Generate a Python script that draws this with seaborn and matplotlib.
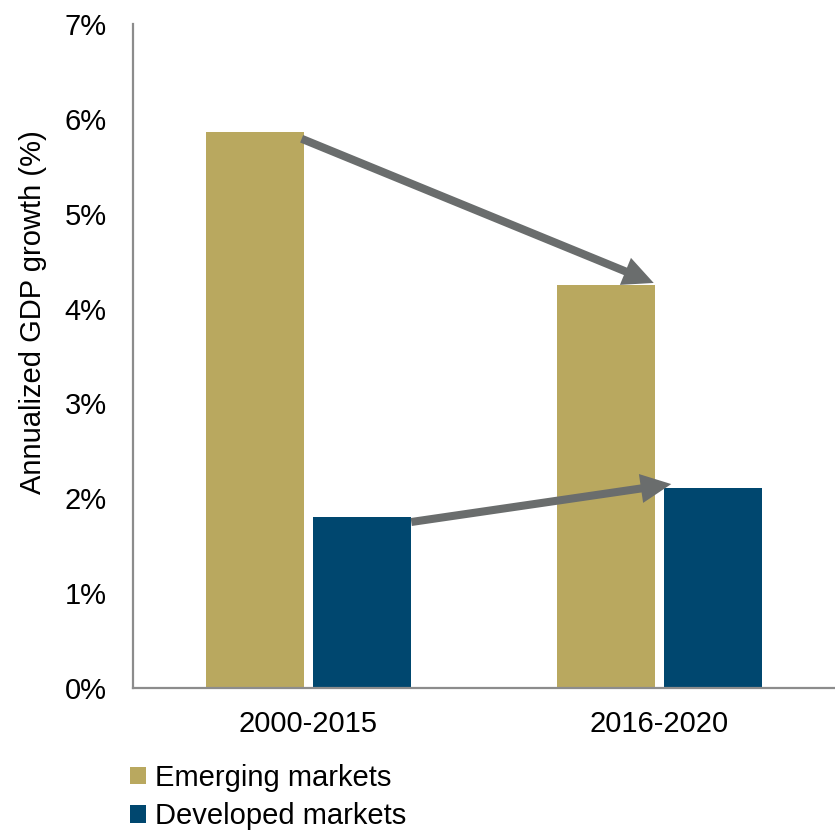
import matplotlib
matplotlib.use("Agg")
import matplotlib.pyplot as plt
import seaborn as sns
import pandas as pd
from matplotlib.patches import Patch
from matplotlib.ticker import FuncFormatter

# Annualized GDP growth by period
periods = ["2000-2015", "2016-2020"]
emerging = [5.86, 4.25]
developed = [1.80, 2.11]
series = ["Emerging markets", "Developed markets"]
colors = ["#B9A85F", "#00476F"]
arrow_color = "#6A6D6D"

df = pd.DataFrame({
    "period": periods * 2,
    "growth": emerging + developed,
    "market": [series[0]] * 2 + [series[1]] * 2,
})

sns.set_theme(style="white")
plt.rcParams["font.family"] = ["Liberation Sans", "DejaVu Sans"]

fig = plt.figure(figsize=(8.35, 8.32), dpi=100)
ax = fig.add_axes([133 / 835, 1 - 688 / 832, 1 - 133 / 835, (688 - 24) / 832])

sns.barplot(data=df, x="period", y="growth", hue="market", order=periods,
            hue_order=series, palette=colors, width=0.6125, gap=0.088,
            saturation=1, ax=ax, legend=False, linewidth=0)

ax.set_xlim(-0.5, 1.5)
ax.set_ylim(0, 7)
ax.set_yticks(range(0, 8))
ax.yaxis.set_major_formatter(FuncFormatter(lambda v, _: f"{v:.0f}%"))
ax.tick_params(axis="both", length=0, labelsize=21, colors="black")
ax.tick_params(axis="y", pad=19)
ax.tick_params(axis="x", pad=16)
ax.set_xlabel("")
ax.set_ylabel("Annualized GDP growth (%)", fontsize=21, color="black")
ax.yaxis.set_label_coords(-0.1225, 0.566)

for side in ["top", "right"]:
    ax.spines[side].set_visible(False)
for side in ["left", "bottom"]:
    ax.spines[side].set_color("#8C8C8C")
    ax.spines[side].set_linewidth(1.6)

# Bars in drawing order: emerging (both periods), then developed
bars = ax.patches
e1, e2, d1, d2 = bars[0], bars[1], bars[2], bars[3]

def right_top(b, dy=0.0, dx=0.0):
    return (b.get_x() + b.get_width() + dx, b.get_height() + dy)

def left_top(b, dy=0.0, dx=0.0):
    return (b.get_x() + dx, b.get_height() + dy)

arrow_kw = dict(arrowstyle="simple,head_length=1.1,head_width=1.05,tail_width=0.29",
                mutation_scale=20, fc=arrow_color, ec="none", lw=0,
                shrinkA=0, shrinkB=0)
ax.annotate("", xy=right_top(e2, dy=0.02, dx=-0.003), xytext=right_top(e1, dy=-0.07, dx=-0.006),
            arrowprops=arrow_kw, annotation_clip=False)
ax.annotate("", xy=left_top(d2, dy=0.04, dx=0.02), xytext=right_top(d1, dy=-0.05),
            arrowprops=arrow_kw, annotation_clip=False)

handles = [Patch(facecolor=c, edgecolor="none", label=s) for c, s in zip(colors, series)]
fig.legend(handles=handles, loc="upper left", bbox_to_anchor=(130 / 835, 1 - 764 / 832),
           frameon=False, fontsize=21, handlelength=0.55, handleheight=0.55,
           handletextpad=0.3, labelspacing=0.35, borderpad=0, borderaxespad=0,
           labelcolor="black")

fig.savefig("out.png", dpi=100)
